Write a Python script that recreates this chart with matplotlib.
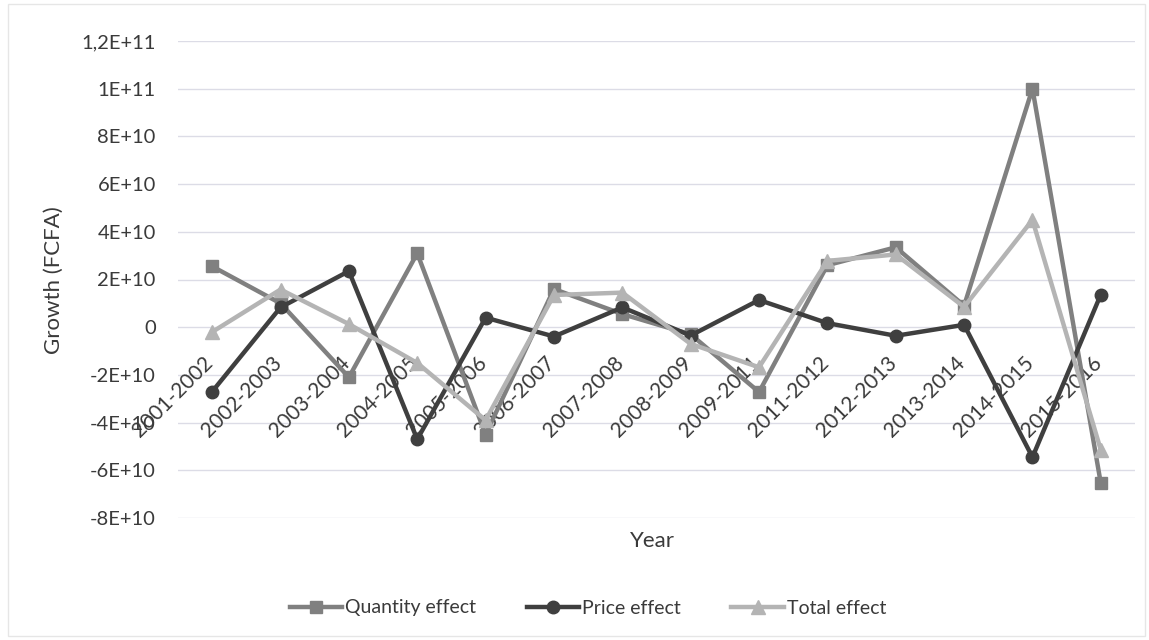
import matplotlib
matplotlib.use('Agg')
import matplotlib.pyplot as plt
from matplotlib.patches import Rectangle

categories = ['2001-2002', '2002-2003', '2003-2004', '2004-2005', '2005-2006',
              '2006-2007', '2007-2008', '2008-2009', '2009-2011', '2011-2012',
              '2012-2013', '2013-2014', '2014-2015', '2015-2016']
quantity = [2.55e10, 1.0e10, -2.1e10, 3.1e10, -4.5e10, 1.6e10, 0.55e10,
            -0.3e10, -2.72e10, 2.6e10, 3.35e10, 0.9e10, 1.0e11, -6.55e10]
price = [-2.7e10, 0.83e10, 2.35e10, -4.7e10, 0.4e10, -0.39e10, 0.83e10,
         -0.35e10, 1.14e10, 0.17e10, -0.36e10, 0.1e10, -5.45e10, 1.37e10]
total = [-0.2e10, 1.58e10, 0.13e10, -1.5e10, -3.9e10, 1.35e10, 1.45e10,
         -0.7e10, -1.68e10, 2.78e10, 3.05e10, 0.85e10, 4.5e10, -5.15e10]
yticks = [-8e10, -6e10, -4e10, -2e10, 0, 2e10, 4e10, 6e10, 8e10, 1e11, 1.2e11]
ytick_labels = ['-8E+10', '-6E+10', '-4E+10', '-2E+10', '0', '2E+10', '4E+10',
                '6E+10', '8E+10', '1E+11', '1,2E+11']
series_names = ['Quantity effect', 'Price effect', 'Total effect']

plt.rcParams['font.family'] = ['Lato', 'DejaVu Sans']
W, H = 1149, 640
fig = plt.figure(figsize=(W / 100, H / 100), dpi=100)
fig.patches.append(Rectangle((8 / W, 4 / H), 1 - 12 / W, 1 - 8 / H,
                             transform=fig.transFigure, fill=False,
                             edgecolor='#e6e6e6', linewidth=1))

ax = fig.add_axes([178 / W, 1 - 518 / H, (1135 - 178) / W, (518 - 41) / H])
x = list(range(len(categories)))

text_col = '#3a3a3a'
ax.plot(x, quantity, color='#808080', lw=3.2, marker='s', ms=8.5,
        label=series_names[0], zorder=3)
ax.plot(x, price, color='#3f3f3f', lw=3.2, marker='o', ms=9,
        label=series_names[1], zorder=4)
ax.plot(x, total, color='#b4b4b4', lw=3.2, marker='^', ms=9.5,
        label=series_names[2], zorder=5)

ax.set_xlim(-0.5, len(categories) - 0.5)
ax.set_ylim(-8e10, 1.2e11)
ax.set_yticks(yticks)
ax.set_yticklabels(ytick_labels)
ax.tick_params(axis='y', length=0, pad=16, labelsize=14.5, labelcolor=text_col)
ax.set_xticks([])
ax.grid(axis='y', color='#dcdce6', linewidth=1)
ax.set_axisbelow(True)
for s in ax.spines.values():
    s.set_visible(False)

for i, lab in enumerate(categories):
    ax.text(i - 0.03, -1.35e10, lab, rotation=45, rotation_mode='anchor',
            ha='right', va='center', fontsize=15, color=text_col, zorder=2)

fig.text(54 / W, 1 - 280 / H, 'Growth (FCFA)', rotation=90, ha='center',
         va='center', fontsize=16, color=text_col)
fig.text(652 / W, 1 - 541 / H, 'Year', ha='center', va='center',
         fontsize=16, color=text_col)

handles, labels = ax.get_legend_handles_labels()
fig.legend(handles, labels, loc='center', bbox_to_anchor=(588 / W, 1 - 608 / H),
           ncol=3, frameon=False, fontsize=14, handlelength=2.7,
           handletextpad=0.15, columnspacing=2.6, labelcolor=text_col)

fig.savefig('out.png', dpi=100)
